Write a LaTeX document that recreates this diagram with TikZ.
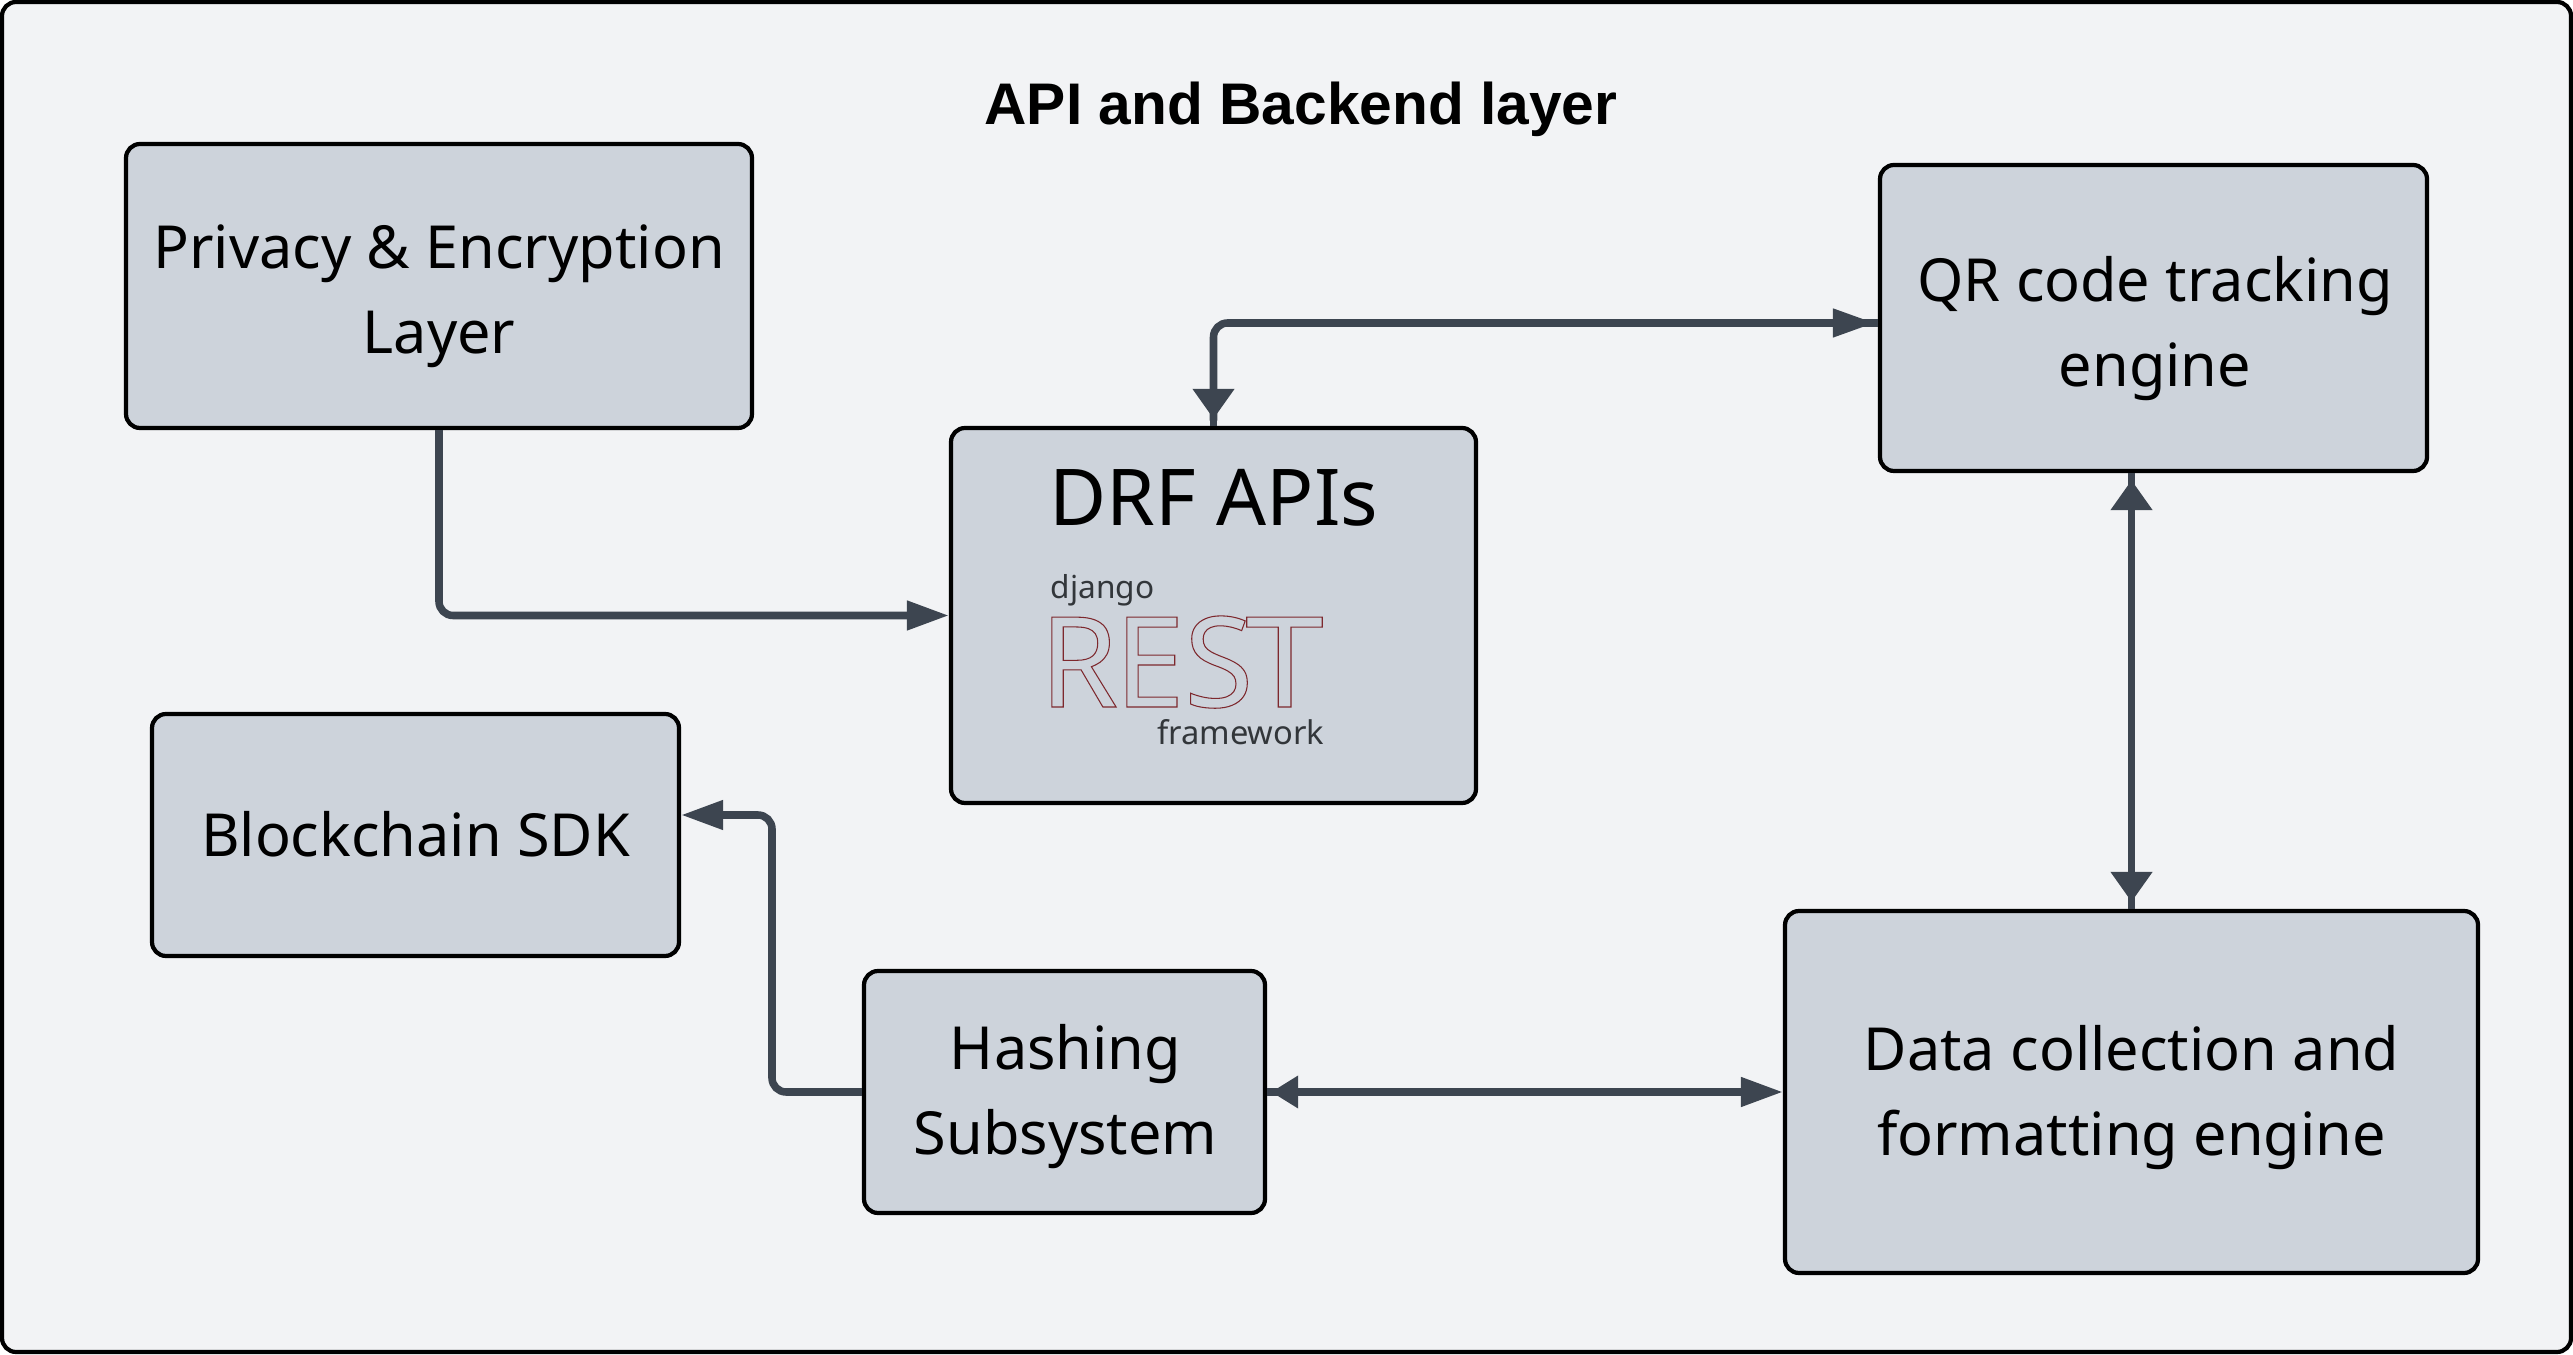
\documentclass[tikz,border=0pt]{standalone}
\usepackage{fontspec}
\usepackage{xcolor}
\setmainfont{Noto Sans}
\newfontfamily\titlefont{Liberation Sans}
\usetikzlibrary{arrows.meta,positioning,calc}
\definecolor{layerbg}{RGB}{242,243,245}
\definecolor{boxfill}{RGB}{205,211,219}
\definecolor{linkgray}{RGB}{61,69,80}
\definecolor{logotext}{RGB}{50,54,58}
\definecolor{logored}{RGB}{125,40,45}

\begin{document}
\begin{tikzpicture}[
    block/.style={draw=black, rounded corners=4pt, line width=1.2pt, fill=boxfill, inner sep=0pt},
    blocktext/.style={inner sep=0pt, align=center, font=\fontsize{16.9}{24.2}\selectfont},
    arr/.style={line width=2.15pt, draw=linkgray, rounded corners=4pt},
    headh/.tip={Triangle[length=4.2mm, width=2.8mm]},
    headq/.tip={Triangle[length=4.2mm, width=2.7mm] Rectangle[length=0.3mm, width=2.15pt]},
    heads/.tip={Triangle[length=2.7mm, width=3.1mm] Rectangle[length=0.4mm, width=2.15pt]},
    headv/.tip={Triangle[length=3mm, width=4mm] Rectangle[length=0.7mm, width=2.15pt]},
    logolabel/.style={inner sep=0pt, text=logotext, anchor=base}
  ]
    \useasboundingbox (0,0) rectangle (25.73,13.54);
    \node[draw=black, line width=1.2pt, rounded corners=4pt, fill=layerbg, minimum width=25.69cm, minimum height=13.50cm, inner sep=0pt] (layer) at (12.865,6.77) {};
    \node[inner sep=0pt, anchor=base, font=\titlefont\fontsize{16.7}{20}\selectfont\bfseries] (title) at (13.01,12.29) {API and Backend layer};

    \node[block, minimum width=6.26cm, minimum height=2.84cm] (privacy) at (4.39,10.68) {};
    \node[block, minimum width=5.25cm, minimum height=3.75cm] (drf) at (12.135,7.385) {};
    \node[block, minimum width=5.47cm, minimum height=3.06cm] (qr) at (21.535,10.36) {};
    \node[block, minimum width=5.27cm, minimum height=2.42cm] (chain) at (4.155,5.19) {};
    \node[block, minimum width=4.01cm, minimum height=2.42cm] (hash) at (10.645,2.62) {};
    \node[block, minimum width=6.93cm, minimum height=3.62cm] (data) at (21.315,2.62) {};

    \node[blocktext] (privacylabel) at (4.39,10.58) {Privacy \& Encryption\\Layer};
    \node[blocktext] (qrlabel) at (21.55,10.25) {QR code tracking\\engine};
    \node[blocktext] (chainlabel) at (4.155,5.20) {Blockchain SDK};
    \node[blocktext] (hashlabel) at (10.655,2.575) {Hashing\\Subsystem};
    \node[blocktext] (datalabel) at (21.315,2.565) {Data collection and\\formatting engine};

    \node[inner sep=0pt, font=\fontsize{22.3}{28}\selectfont] (drflabel) at (12.14,8.56) {DRF APIs};
    \node[logolabel, anchor=base west, font=\fontsize{9}{11}\selectfont] (django) at (10.50,7.55) {django};
    \node[inner sep=0pt, anchor=base west, text=logored, font=\fontsize{35.8}{40}\selectfont] (rest) at (10.39,6.47) {\special{pdf:code 1 Tr 0.3 w}R\kern-1pt E\kern-0.1pt S\kern-2.2pt\scalebox{1.12}[1]{T}\special{pdf:code 0 Tr 1 w}};
    \node[logolabel, anchor=base east, font=\fontsize{9.3}{11}\selectfont] (framework) at (13.25,6.09) {framework};

    \coordinate (bend) at (7.72,5.39);

    \draw[arr, -{headh}] (privacy.south) |- (drf.west);
    \draw[arr, {headv}-{headq}] (drf.north) |- ([yshift=-0.05cm]qr.west);
    \draw[arr, {headv}-{headv}] (data.north |- qr.south) -- (data.north);
    \draw[arr, {heads}-{headh}] (hash.east) -- (data.west);
    \draw[arr, -{headh}] (hash.west) -| (bend) -- (bend -| chain.east);
  \end{tikzpicture}
\end{document}
